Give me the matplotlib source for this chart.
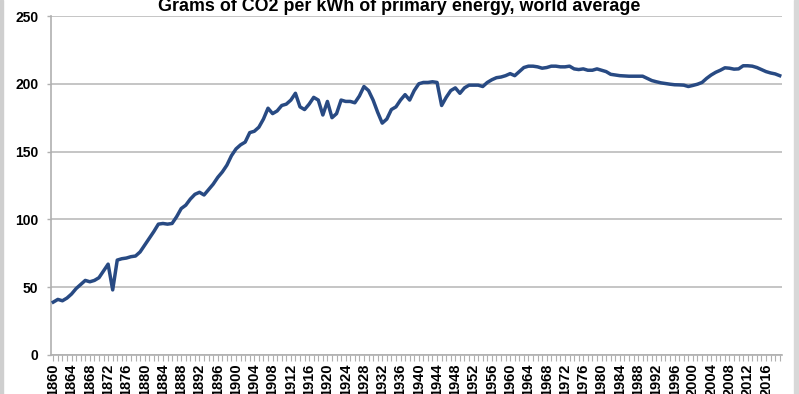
import matplotlib
matplotlib.use("Agg")
import matplotlib.pyplot as plt
from matplotlib.patches import Rectangle
import numpy as np

plt.rcParams['font.family'] = ['Liberation Sans', 'DejaVu Sans']

title = "Grams of CO2 per kWh of primary energy, world average"
start_year = 1860
values = [
    39, 41, 40, 42, 45, 49, 52, 55, 54, 55,            # 1860-1869
    57, 62, 67, 48, 70, 71, 71.5, 72.5, 73, 76,        # 1870-1879
    81, 86, 91, 96.5, 97, 96.5, 97, 102, 108, 110.5,   # 1880-1889
    115, 118.5, 120, 118, 122, 126, 131, 135, 140, 147, # 1890-1899
    152, 155, 157, 164, 165, 168, 174, 182, 178, 180,  # 1900-1909
    184, 185, 188, 193, 183, 181, 185, 190, 188, 177,  # 1910-1919
    187, 175, 178, 188, 187, 187, 186, 191, 198, 195,  # 1920-1929
    188, 179, 171, 174, 181, 183, 188, 192, 188, 195,  # 1930-1939
    200, 201, 201, 201.5, 201, 184, 190, 195, 197, 193, # 1940-1949
    197, 199, 199, 199, 198, 201, 203, 204.5, 205, 206, # 1950-1959
    207.5, 206, 209, 212, 213, 213, 212.5, 211.5, 212, 213, # 1960-1969
    213, 212.5, 212.5, 213, 211, 210.5, 211, 210, 210, 211, # 1970-1979
    210, 209, 207, 206.5, 206, 205.8, 205.6, 205.6, 205.6, 205.6, # 1980-1989
    204, 202.4, 201.5, 200.7, 200.2, 199.7, 199.3, 199.2, 199, 198, # 1990-1999
    198.8, 199.7, 201, 204, 206.5, 208.5, 210, 211.8, 211.5, 210.8, # 2000-2009
    211, 213.3, 213.3, 213, 212, 210.5, 209, 208, 207.3, 206,       # 2010-2019
]
years = [start_year + i for i in range(len(values))]
tick_labels = [str(y) for y in years if (y - start_year) % 4 == 0]
y_ticks = [0, 50, 100, 150, 200, 250]

fig = plt.figure(figsize=(7.99, 3.94), dpi=100)
ax = fig.add_axes([51/799, 1-355/394, (782-51)/799, (355-16)/394])

x = np.arange(len(values))
ax.plot(x, values, color='#284a83', lw=2.5, solid_joinstyle='round', zorder=3)

ax.set_xlim(-0.5, len(values) - 0.5)
ax.set_ylim(0, 250)
ax.set_yticks(y_ticks)
ax.set_yticklabels([str(v) for v in y_ticks], fontsize=10, fontweight='bold')
ax.yaxis.grid(True, color='#c0c0c0', lw=1.3)
ax.set_axisbelow(True)

major = [i for i in x if i % 4 == 0]
ax.set_xticks(major)
ax.set_xticklabels(tick_labels, rotation=90, fontsize=10.5, fontweight='bold')
ax.set_xticks(np.arange(len(values)), minor=True)
ax.tick_params(axis='x', which='both', length=4, color='#b0b0b0', width=0.8, pad=2)
ax.tick_params(axis='y', length=3, color='#b0b0b0', width=1, pad=6)

for s in ['top', 'right']:
    ax.spines[s].set_visible(False)
for s in ['left', 'bottom']:
    ax.spines[s].set_color('#b0b0b0')
    ax.spines[s].set_linewidth(1.2)

fig.text(0.5, 1 - 11/394, title, ha='center', va='baseline', fontsize=12.9,
         fontweight='bold')

fig.patches.append(Rectangle((0, 0), 3/799, 1, transform=fig.transFigure,
                             color='#cfcfcf', zorder=0))
fig.patches.append(Rectangle((794/799, 0), 5/799, 1, transform=fig.transFigure,
                             color='#d8d8d8', zorder=0))

fig.savefig("out.png", dpi=100)
